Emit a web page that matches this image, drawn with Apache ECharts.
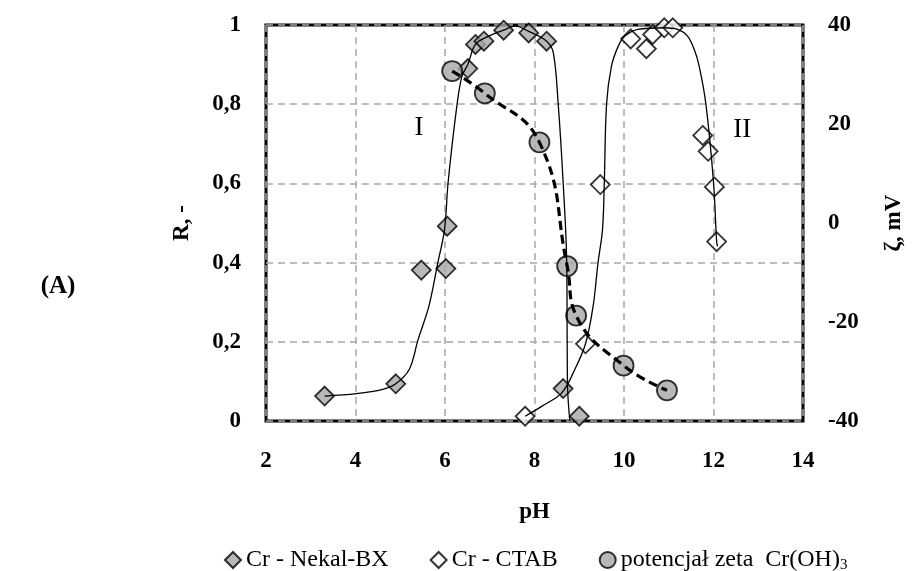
<!DOCTYPE html>
<html>
<head>
<meta charset="utf-8">
<script src="https://cdn.jsdelivr.net/npm/echarts@6.0.0/dist/echarts.min.js"></script>
<style>
  html, body { margin: 0; padding: 0; background: #fff; }
  #chart { width: 914px; height: 571px; }
</style>
</head>
<body>
<div id="chart"></div>
<script>
// Flotation recovery R of Cr vs pH for two collectors, and zeta potential of Cr(OH)3
const nekalPH = [3.31, 4.90, 5.47, 6.02, 6.05, 6.51, 6.68, 6.87, 7.31, 7.87, 8.27, 8.64, 9.00];
const nekalR  = [0.063, 0.094, 0.381, 0.385, 0.492, 0.890, 0.951, 0.959, 0.987, 0.980, 0.959, 0.082, 0.012];

const ctabPH = [7.79, 9.14, 9.47, 10.15, 10.50, 10.64, 10.90, 11.09, 11.76, 11.88, 12.02, 12.07];
const ctabR  = [0.012, 0.195, 0.597, 0.965, 0.940, 0.976, 0.993, 0.993, 0.721, 0.681, 0.591, 0.453];

const zetaPH = [6.16, 6.89, 8.11, 8.73, 8.93, 9.99, 10.96];
const zetaMV = [30.7, 26.2, 16.3, -8.7, -18.7, -28.8, -33.8];

// hand-traced fitted curves
const nekalFitPH = [3.31, 4.02, 4.61, 4.90, 5.20, 5.40, 5.64, 5.84, 5.99, 6.07, 6.27, 6.38, 6.51, 6.68, 6.98, 7.31, 7.57, 7.87, 8.27, 8.42, 8.53, 8.64, 8.72, 8.73, 8.74, 8.79];
const nekalFitR  = [0.063, 0.069, 0.080, 0.094, 0.130, 0.206, 0.290, 0.400, 0.484, 0.603, 0.800, 0.871, 0.900, 0.951, 0.972, 0.987, 0.997, 0.984, 0.959, 0.930, 0.800, 0.603, 0.400, 0.205, 0.082, 0.0];

const ctabFitPH = [7.79, 8.16, 8.61, 8.90, 9.14, 9.31, 9.42, 9.52, 9.56, 9.61, 9.72, 9.87, 10.02, 10.31, 10.90, 11.20, 11.42, 11.57, 11.68, 11.83, 12.00, 12.07, 12.09];
const ctabFitR  = [0.012, 0.037, 0.071, 0.130, 0.195, 0.290, 0.400, 0.484, 0.603, 0.800, 0.896, 0.946, 0.972, 0.989, 0.993, 0.989, 0.972, 0.938, 0.896, 0.800, 0.603, 0.453, 0.441];

const xTicks = { min: 2, max: 14, step: 2 };
const rTicks = { min: 0, max: 1, step: 0.2 };
const zTicks = { min: -40, max: 40, step: 20 };

const NAME_NEKAL = 'Cr - Nekal-BX';
const NAME_CTAB = 'Cr - CTAB';
const NAME_ZETA = 'potencjał zeta  Cr(OH)3';

const pairs = (xs, ys) => xs.map((x, i) => [x, ys[i]]);

const serif = "'Liberation Serif', 'Times New Roman', serif";
const gray = '#a6a6a6';
const labelFont = { fontFamily: serif, fontSize: 23, fontWeight: 'bold', color: '#000' };

const chart = echarts.init(document.getElementById('chart'), null, { renderer: 'canvas' });

const option = {
  backgroundColor: '#fff',
  animation: false,
  grid: {
    left: 266, top: 25, width: 540, height: 396,
    show: true, borderColor: '#000', borderWidth: 3, backgroundColor: 'transparent'
  },
  legend: {
    data: [NAME_NEKAL, NAME_CTAB, NAME_ZETA],
    left: 219, top: 543,
    itemWidth: 16, itemHeight: 16, itemGap: 41,
    textStyle: {
      fontFamily: serif, fontSize: 24, color: '#000',
      rich: { sub: { fontFamily: serif, fontSize: 15, color: '#000', padding: [11, 0, 0, 0] } }
    },
    formatter: n => n === NAME_ZETA ? 'potencjał zeta  Cr(OH){sub|3}' : n
  },
  xAxis: {
    type: 'value', min: xTicks.min, max: xTicks.max, interval: xTicks.step,
    name: 'pH', nameLocation: 'middle', nameGap: 80,
    nameTextStyle: labelFont,
    axisLine: { show: false }, axisTick: { show: false },
    axisLabel: Object.assign({ margin: 29 }, labelFont),
    splitLine: { show: true, lineStyle: { color: '#a8a8a8', width: 1.5, type: [7, 5] } }
  },
  yAxis: [
    {
      type: 'value', min: rTicks.min, max: rTicks.max, interval: rTicks.step,
      name: 'R, -', nameLocation: 'middle', nameGap: 72, nameRotate: 90,
      nameTextStyle: labelFont,
      axisLine: { show: false }, axisTick: { show: false },
      axisLabel: Object.assign({
        margin: 25,
        formatter: v => (Math.abs(v) < 1e-9 ? '0' : Math.abs(v - 1) < 1e-9 ? '1' : v.toFixed(1).replace('.', ','))
      }, labelFont),
      splitLine: { show: true, lineStyle: { color: '#a8a8a8', width: 1.5, type: [7, 5] } }
    },
    {
      type: 'value', min: zTicks.min, max: zTicks.max, interval: zTicks.step, position: 'right',
      name: 'ζ, mV', nameLocation: 'middle', nameGap: 80, nameRotate: 90,
      nameTextStyle: labelFont,
      axisLine: { show: false }, axisTick: { show: false },
      axisLabel: Object.assign({ margin: 25 }, labelFont),
      splitLine: { show: false }
    }
  ],
  series: [
    {
      name: NAME_NEKAL, type: 'scatter', yAxisIndex: 0, z: 2,
      symbol: 'diamond', symbolSize: 19,
      itemStyle: { color: gray, borderColor: '#000', borderWidth: 1.8 },
      data: pairs(nekalPH, nekalR)
    },
    {
      name: NAME_CTAB, type: 'scatter', yAxisIndex: 0, z: 2,
      symbol: 'diamond', symbolSize: 19,
      itemStyle: { color: '#fff', borderColor: '#000', borderWidth: 1.8 },
      data: pairs(ctabPH, ctabR)
    },
    {
      name: NAME_ZETA, type: 'scatter', yAxisIndex: 1, z: 2,
      symbol: 'circle', symbolSize: 20,
      itemStyle: { color: gray, borderColor: '#000', borderWidth: 1.8 },
      data: pairs(zetaPH, zetaMV)
    },
    {
      name: 'Nekal-BX fit', type: 'line', yAxisIndex: 0, z: 4,
      smooth: 0.35, showSymbol: false, symbol: 'none', silent: true,
      lineStyle: { color: '#000', width: 1.3 },
      data: pairs(nekalFitPH, nekalFitR)
    },
    {
      name: 'CTAB fit', type: 'line', yAxisIndex: 0, z: 4,
      smooth: 0.35, showSymbol: false, symbol: 'none', silent: true,
      lineStyle: { color: '#000', width: 1.3 },
      data: pairs(ctabFitPH, ctabFitR)
    },
    {
      name: 'zeta trend', type: 'line', yAxisIndex: 1, z: 4,
      smooth: 0.45, showSymbol: false, symbol: 'none', silent: true,
      lineStyle: { color: '#000', width: 3.2, type: [9, 5] },
      data: pairs(zetaPH, zetaMV)
    }
  ]
};

chart.setOption(option);

// region labels placed in data coordinates
const regionI = chart.convertToPixel({ xAxisIndex: 0, yAxisIndex: 0 }, [5.42, 0.74]);
const regionII = chart.convertToPixel({ xAxisIndex: 0, yAxisIndex: 0 }, [12.64, 0.736]);

chart.setOption({
  graphic: [
    {
      type: 'text', x: regionI[0], y: regionI[1],
      style: { text: 'I', fontFamily: serif, fontSize: 27, fill: '#000', align: 'center', verticalAlign: 'middle' }
    },
    {
      type: 'text', x: regionII[0], y: regionII[1],
      style: { text: 'II', fontFamily: serif, fontSize: 27, fill: '#000', align: 'center', verticalAlign: 'middle' }
    },
    {
      type: 'text', x: 58, y: 287,
      style: { text: '(A)', fontFamily: serif, fontSize: 25, fontWeight: 'bold', fill: '#000', align: 'center', verticalAlign: 'middle' }
    }
  ]
});
</script>
</body>
</html>
